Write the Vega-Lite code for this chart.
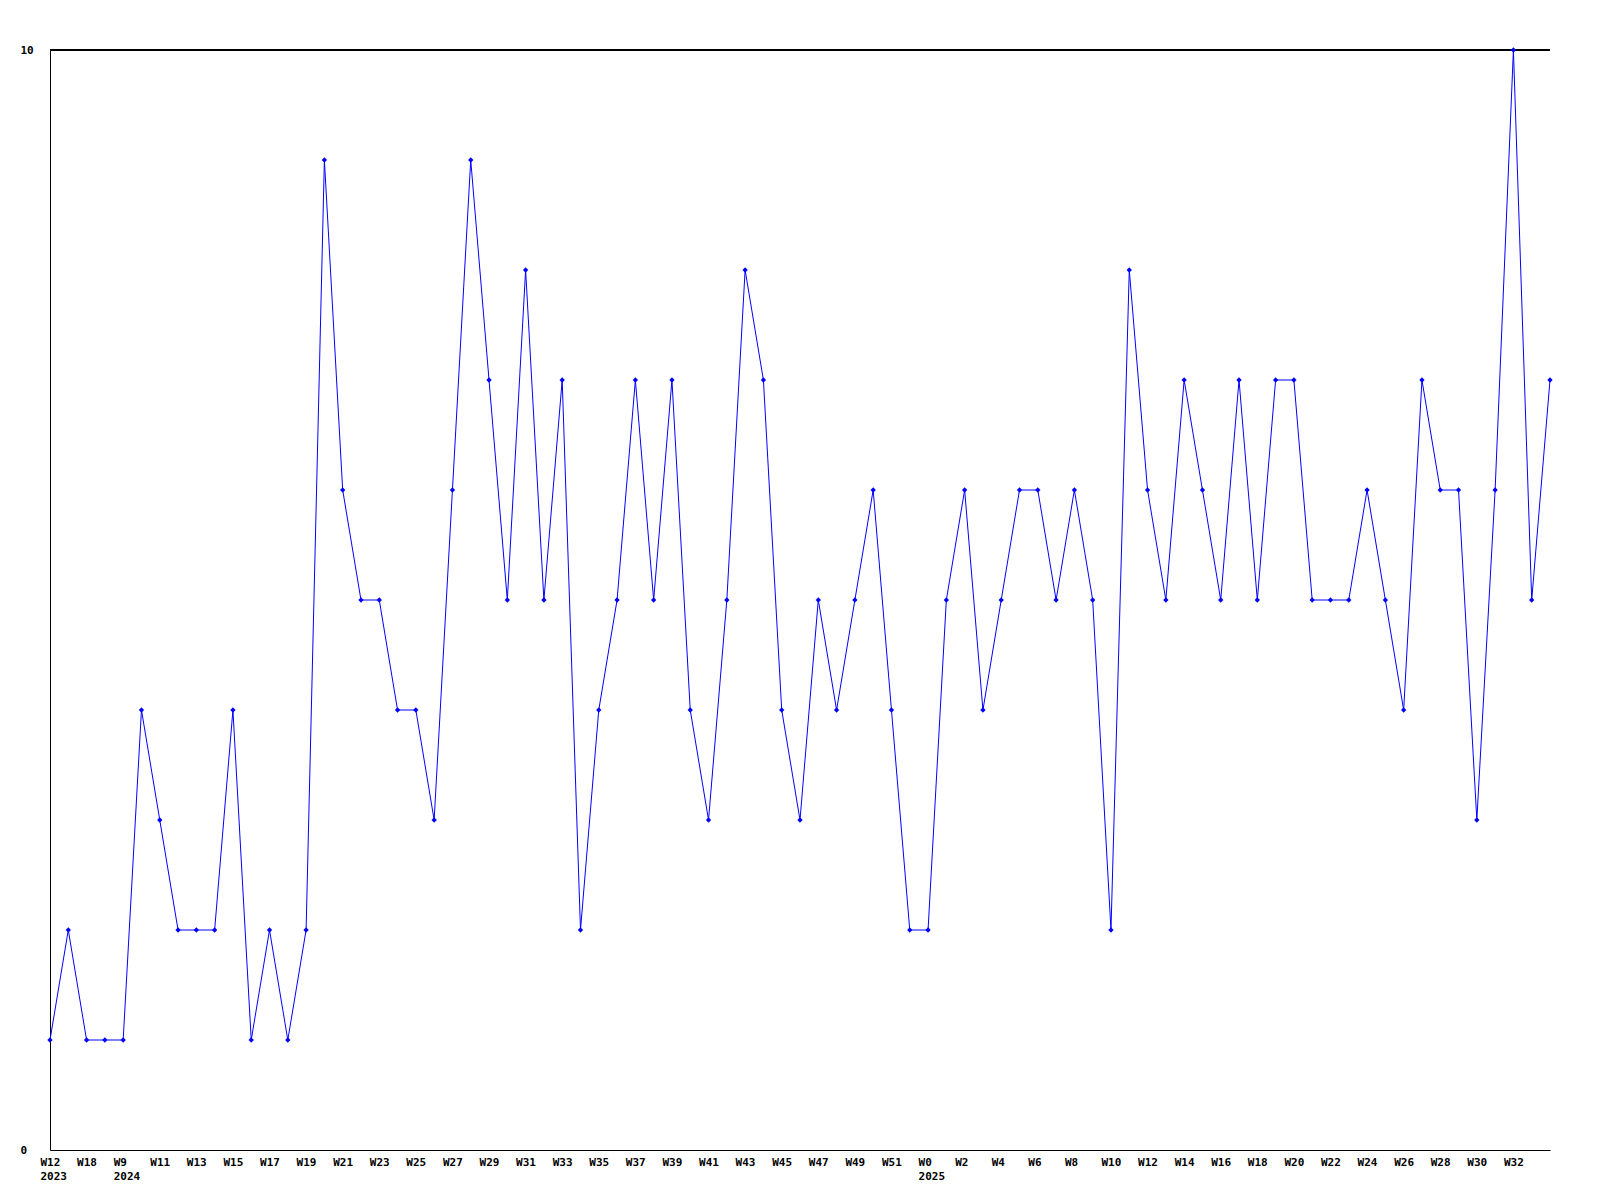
{
  "$schema": "https://vega.github.io/schema/vega-lite/v6.json",
  "width": 1500,
  "height": 1100,
  "autosize": {"type": "none"},
  "padding": {"left": 50, "top": 50, "right": 50, "bottom": 50},
  "background": "white",
  "config": {
    "view": {"stroke": null},
    "axis": {"labelFont": "DejaVu Sans Mono", "labelFontWeight": "bold", "labelFontSize": 11, "labelColor": "black", "domainColor": "black", "domainWidth": 1, "grid": false, "ticks": false, "tickSize": 0, "title": null}
  },
  "data": {"values": [
    {"k": "2023|W12|y", "v": 1}, {"k": "2023|W15|-", "v": 2}, {"k": "2023|W18|s", "v": 1}, {"k": "2024|W5|-", "v": 1},
    {"k": "2024|W9|y", "v": 1}, {"k": "2024|W10|-", "v": 4}, {"k": "2024|W11|s", "v": 3}, {"k": "2024|W12|-", "v": 2},
    {"k": "2024|W13|s", "v": 2}, {"k": "2024|W14|-", "v": 2}, {"k": "2024|W15|s", "v": 4}, {"k": "2024|W16|-", "v": 1},
    {"k": "2024|W17|s", "v": 2}, {"k": "2024|W18|-", "v": 1}, {"k": "2024|W19|s", "v": 2}, {"k": "2024|W20|-", "v": 9},
    {"k": "2024|W21|s", "v": 6}, {"k": "2024|W22|-", "v": 5}, {"k": "2024|W23|s", "v": 5}, {"k": "2024|W24|-", "v": 4},
    {"k": "2024|W25|s", "v": 4}, {"k": "2024|W26|-", "v": 3}, {"k": "2024|W27|s", "v": 6}, {"k": "2024|W28|-", "v": 9},
    {"k": "2024|W29|s", "v": 7}, {"k": "2024|W30|-", "v": 5}, {"k": "2024|W31|s", "v": 8}, {"k": "2024|W32|-", "v": 5},
    {"k": "2024|W33|s", "v": 7}, {"k": "2024|W34|-", "v": 2}, {"k": "2024|W35|s", "v": 4}, {"k": "2024|W36|-", "v": 5},
    {"k": "2024|W37|s", "v": 7}, {"k": "2024|W38|-", "v": 5}, {"k": "2024|W39|s", "v": 7}, {"k": "2024|W40|-", "v": 4},
    {"k": "2024|W41|s", "v": 3}, {"k": "2024|W42|-", "v": 5}, {"k": "2024|W43|s", "v": 8}, {"k": "2024|W44|-", "v": 7},
    {"k": "2024|W45|s", "v": 4}, {"k": "2024|W46|-", "v": 3}, {"k": "2024|W47|s", "v": 5}, {"k": "2024|W48|-", "v": 4},
    {"k": "2024|W49|s", "v": 5}, {"k": "2024|W50|-", "v": 6}, {"k": "2024|W51|s", "v": 4}, {"k": "2024|W52|-", "v": 2},
    {"k": "2025|W0|y", "v": 2}, {"k": "2025|W1|-", "v": 5}, {"k": "2025|W2|s", "v": 6}, {"k": "2025|W3|-", "v": 4},
    {"k": "2025|W4|s", "v": 5}, {"k": "2025|W5|-", "v": 6}, {"k": "2025|W6|s", "v": 6}, {"k": "2025|W7|-", "v": 5},
    {"k": "2025|W8|s", "v": 6}, {"k": "2025|W9|-", "v": 5}, {"k": "2025|W10|s", "v": 2}, {"k": "2025|W11|-", "v": 8},
    {"k": "2025|W12|s", "v": 6}, {"k": "2025|W13|-", "v": 5}, {"k": "2025|W14|s", "v": 7}, {"k": "2025|W15|-", "v": 6},
    {"k": "2025|W16|s", "v": 5}, {"k": "2025|W17|-", "v": 7}, {"k": "2025|W18|s", "v": 5}, {"k": "2025|W19|-", "v": 7},
    {"k": "2025|W20|s", "v": 7}, {"k": "2025|W21|-", "v": 5}, {"k": "2025|W22|s", "v": 5}, {"k": "2025|W23|-", "v": 5},
    {"k": "2025|W24|s", "v": 6}, {"k": "2025|W25|-", "v": 5}, {"k": "2025|W26|s", "v": 4}, {"k": "2025|W27|-", "v": 7},
    {"k": "2025|W28|s", "v": 6}, {"k": "2025|W29|-", "v": 6}, {"k": "2025|W30|s", "v": 3}, {"k": "2025|W31|-", "v": 6},
    {"k": "2025|W32|s", "v": 10}, {"k": "2025|W33|-", "v": 5}, {"k": "2025|W34|-", "v": 7}
  ]},
  "encoding": {
    "x": {"field": "k", "type": "ordinal", "sort": null,
      "scale": {"type": "point", "padding": 0},
      "axis": {"labelAngle": 0, "labelAlign": "left", "labelOffset": -10, "labelBaseline": "top", "labelPadding": 6, "labelLineHeight": 14, "labelOverlap": false, "labelBound": false, "labelFlush": false,
        "labelExpr": "split(datum.value,'|')[2]=='-' ? '' : (split(datum.value,'|')[2]=='y' ? [split(datum.value,'|')[1], split(datum.value,'|')[0]] : split(datum.value,'|')[1])"}},
    "y": {"field": "v", "type": "quantitative", "scale": {"domain": [0, 10], "nice": false},
      "axis": {"values": [0, 10], "labelAlign": "left", "labelBaseline": "middle", "labelPadding": 30}}
  },
  "layer": [
    {"mark": {"type": "rule", "color": "black", "strokeWidth": 1}, "encoding": {"x": null, "y": {"datum": 10, "type": "quantitative"}}},
    {"mark": {"type": "line", "color": "#0000ff", "strokeWidth": 1,
      "point": {"shape": "diamond", "size": 28, "filled": true, "color": "#0000ff", "opacity": 1}}}
  ]
}
